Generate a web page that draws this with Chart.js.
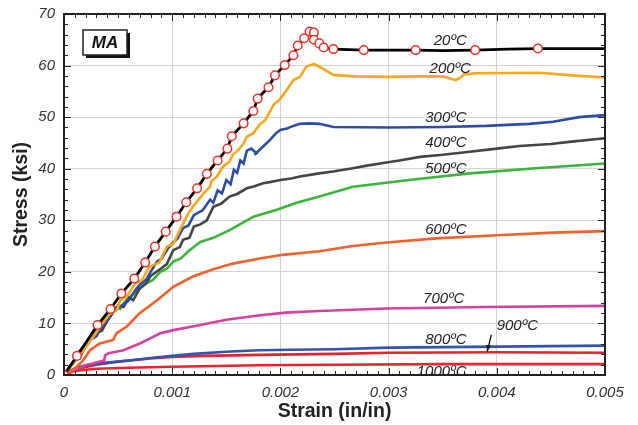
<!DOCTYPE html>
<html>
<head>
<meta charset="utf-8">
<script src="https://cdn.jsdelivr.net/npm/chart.js@4.4.1/dist/chart.umd.min.js"></script>
<style>
  html, body { margin: 0; padding: 0; background: #fff; }
</style>
</head>
<body>
<canvas id="myChart" width="638" height="425"></canvas>
<script>
// DATA (strain in in/in, stress in ksi)

const strain20 = [0, 0.00012, 0.00031, 0.00043, 0.00053, 0.00065, 0.00075, 0.00084, 0.00094, 0.00104, 0.00113, 0.00123, 0.00132, 0.00142, 0.00151, 0.00155, 0.00166, 0.00175, 0.00179, 0.00189, 0.00195, 0.00204, 0.00212, 0.00216, 0.00222, 0.00227, 0.00231, 0.00236, 0.0024, 0.00249, 0.00277, 0.003, 0.00325, 0.0035, 0.0038, 0.0041, 0.00438, 0.0047, 0.005];
const stress20 = [0, 3.7, 9.7, 12.8, 15.8, 18.7, 21.8, 24.9, 27.8, 30.7, 33.5, 36.2, 39.0, 41.6, 43.9, 46.3, 48.8, 51.2, 53.6, 55.8, 58.1, 60.1, 62.0, 63.9, 65.3, 66.6, 65.0, 64.0, 63.5, 63.2, 63.0, 63.0, 63.0, 62.9, 63.0, 63.2, 63.3, 63.3, 63.3];

const circleStrain = [0, 0.00012, 0.00031, 0.00043, 0.00053, 0.00065, 0.00075, 0.00084, 0.00094, 0.00104, 0.00113, 0.00123, 0.00132, 0.00142, 0.00151, 0.00155, 0.00166, 0.00175, 0.00179, 0.00189, 0.00195, 0.00204, 0.00212, 0.00216, 0.00222, 0.00227, 0.00231, 0.00231, 0.00236, 0.0024, 0.00249, 0.00277, 0.00325, 0.0038, 0.00438];
const circleStress = [0, 3.7, 9.7, 12.8, 15.8, 18.7, 21.8, 24.9, 27.8, 30.7, 33.5, 36.2, 39.0, 41.6, 43.9, 46.3, 48.8, 51.2, 53.6, 55.8, 58.1, 60.1, 62.0, 63.9, 65.3, 66.6, 66.4, 65.0, 64.3, 63.5, 63.2, 63.0, 63.0, 63.0, 63.3];

const strain200 = [0, 0.00009, 0.00018, 0.00027, 0.00035, 0.00042, 0.00049, 0.00052, 0.00058, 0.00066, 0.00072, 0.00079, 0.00088, 0.00095, 0.00101, 0.00107, 0.00115, 0.00119, 0.00124, 0.00129, 0.00135, 0.00136, 0.00141, 0.00144, 0.00147, 0.00153, 0.00156, 0.00161, 0.00166, 0.00169, 0.00175, 0.00181, 0.00186, 0.00194, 0.00199, 0.00206, 0.00212, 0.00218, 0.00224, 0.00231, 0.0024, 0.00249, 0.0027, 0.003, 0.0033, 0.0035, 0.00362, 0.00366, 0.0037, 0.0038, 0.0044, 0.0047, 0.005];
const stress200 = [0, 2.5, 4.8, 7.4, 9.8, 11.8, 12.6, 14.5, 15.2, 17.8, 18.4, 21.0, 21.8, 24.9, 25.4, 28.1, 31.4, 32.6, 33.9, 35.2, 36.5, 37.5, 38.4, 39.4, 40.4, 41.4, 42.7, 43.6, 44.9, 46.2, 46.9, 48.6, 49.4, 52.5, 53.3, 55.3, 57.2, 57.8, 59.8, 60.3, 59.3, 58.2, 57.9, 57.8, 57.9, 57.9, 57.2, 57.6, 58.3, 58.5, 58.6, 58.1, 57.7];

const strain300 = [0, 0.00005, 0.0001, 0.00014, 0.0002, 0.00024, 0.0003, 0.00035, 0.0004, 0.00046, 0.0005, 0.00056, 0.0006, 0.00066, 0.0007, 0.00076, 0.0008, 0.00086, 0.0009, 0.00096, 0.001, 0.00105, 0.0011, 0.00115, 0.0012, 0.00124, 0.00128, 0.00135, 0.00138, 0.00142, 0.00146, 0.0015, 0.00154, 0.00157, 0.0016, 0.00163, 0.00166, 0.00169, 0.00173, 0.00178, 0.00176, 0.00184, 0.0019, 0.00196, 0.002, 0.00206, 0.00212, 0.00218, 0.00227, 0.00236, 0.00249, 0.003, 0.0035, 0.0039, 0.0043, 0.00452, 0.00476, 0.005];
const stress300 = [0, 1.6, 3.0, 4.5, 6.0, 6.8, 7.5, 9.5, 10.5, 12.5, 13.0, 13.8, 14.5, 16.5, 17.5, 18.5, 20.0, 22.0, 22.5, 24.5, 25.5, 26.5, 28.5, 29.0, 31.0, 31.5, 31.9, 34.0, 33.4, 35.8, 35.2, 37.8, 37.0, 39.8, 39.2, 41.6, 41.0, 43.5, 43.9, 43.0, 42.7, 44.3, 45.5, 46.9, 47.5, 47.8, 48.3, 48.7, 48.8, 48.7, 48.1, 48.0, 48.1, 48.3, 48.7, 49.1, 50.0, 50.4];

const strain400 = [0, 0.0001, 0.00015, 0.0002, 0.0003, 0.00035, 0.0004, 0.0005, 0.00055, 0.0006, 0.00064, 0.0007, 0.00076, 0.0008, 0.0009, 0.00095, 0.00101, 0.00107, 0.0011, 0.00116, 0.0012, 0.00126, 0.00132, 0.00138, 0.00145, 0.00153, 0.0016, 0.00169, 0.00176, 0.00184, 0.0019, 0.002, 0.0021, 0.00218, 0.00236, 0.0025, 0.00267, 0.0028, 0.00298, 0.0031, 0.00329, 0.0035, 0.00375, 0.004, 0.00421, 0.0045, 0.00467, 0.005];
const stress400 = [0, 2.8, 3.6, 5.5, 8.2, 8.6, 10.5, 13.5, 13.2, 15.0, 14.5, 16.8, 17.8, 19.2, 20.7, 21.5, 24.2, 24.8, 26.2, 26.6, 28.8, 29.2, 30.0, 32.6, 33.2, 34.6, 35.1, 36.2, 36.6, 37.2, 37.4, 37.8, 38.1, 38.5, 39.1, 39.5, 40.1, 40.6, 41.2, 41.6, 42.3, 42.7, 43.3, 43.9, 44.4, 44.8, 45.2, 45.9];

const strain500 = [0, 0.000086, 0.00015, 0.00021, 0.00027, 0.00033, 0.0004, 0.000455, 0.00052, 0.00055, 0.00061, 0.00067, 0.00076, 0.00082, 0.00089, 0.00095, 0.00101, 0.00108, 0.00116, 0.00126, 0.00138, 0.00153, 0.00165, 0.00175, 0.00196, 0.00215, 0.00236, 0.00267, 0.00319, 0.00375, 0.00436, 0.005];
const stress500 = [0, 2.3, 4.0, 6.1, 7.5, 10.0, 11.5, 13.2, 12.8, 13.9, 15.2, 16.2, 17.8, 18.4, 20.0, 20.6, 22.0, 22.6, 24.2, 25.8, 26.6, 28.1, 29.5, 30.7, 32.0, 33.4, 34.6, 36.5, 37.8, 39.1, 40.1, 41.0];

const strain600 = [0, 0.00006, 0.00012, 0.00018, 0.00024, 0.00033, 0.000455, 0.000486, 0.00058, 0.0007, 0.00086, 0.00101, 0.00119, 0.00138, 0.00156, 0.00181, 0.00202, 0.00236, 0.00267, 0.00298, 0.00344, 0.004, 0.00452, 0.005];
const stress600 = [0, 0.8, 1.6, 2.9, 4.8, 6.1, 6.8, 8.1, 9.4, 12.0, 14.5, 17.1, 19.1, 20.5, 21.6, 22.6, 23.3, 24.0, 25.0, 25.7, 26.5, 27.1, 27.6, 27.9];

const strain700 = [0, 0.0001, 0.0002, 0.00027, 0.00037, 0.00038, 0.00041, 0.00055, 0.0007, 0.00089, 0.00101, 0.00126, 0.0015, 0.00181, 0.00205, 0.00236, 0.00298, 0.0039, 0.005];
const stress700 = [0, 1.0, 1.9, 2.3, 2.8, 3.8, 4.2, 4.8, 6.1, 8.1, 8.7, 9.7, 10.7, 11.6, 12.1, 12.4, 12.9, 13.2, 13.4];

const strain800 = [0, 0.0001, 0.0002, 0.0004, 0.0006, 0.0008, 0.001, 0.0012, 0.0015, 0.0018, 0.0021, 0.0025, 0.003, 0.0035, 0.004, 0.0045, 0.005];
const stress800 = [0, 1.3, 1.9, 2.4, 2.8, 3.3, 3.7, 4.1, 4.5, 4.8, 4.9, 5.0, 5.3, 5.4, 5.5, 5.6, 5.7];

const strain900 = [0, 0.00005, 0.00015, 0.0003, 0.0005, 0.0008, 0.001, 0.0013, 0.0018, 0.0025, 0.003, 0.004, 0.005];
const stress900 = [0, 0.8, 1.3, 2.0, 2.6, 3.2, 3.5, 3.7, 3.9, 4.1, 4.3, 4.4, 4.3];

const strain1000 = [0, 0.0001, 0.0003, 0.0006, 0.001, 0.0018, 0.0025, 0.0035, 0.005];
const stress1000 = [0, 0.8, 1.2, 1.4, 1.6, 1.9, 2.0, 2.1, 2.1];

// curve labels: text, strain, stress
const labelText = ["20ºC", "200ºC", "300ºC", "400ºC", "500ºC", "600ºC", "700ºC", "800ºC", "900ºC", "1000ºC"];
const labelStrain = [0.00357, 0.00357, 0.00353, 0.00353, 0.00353, 0.00353, 0.00351, 0.00353, 0.00419, 0.00349];
const labelStress = [64.8, 59.3, 49.8, 45.0, 39.9, 28.1, 14.7, 6.8, 9.6, 0.6];

const xTicks = [0, 0.001, 0.002, 0.003, 0.004, 0.005];
const yTicks = [0, 10, 20, 30, 40, 50, 60, 70];

function pairs(xs, ys) {
  return xs.map((x, i) => ({ x: x, y: ys[i] }));
}

function line(label, xs, ys, color, width) {
  return {
    label: label,
    data: pairs(xs, ys),
    borderColor: color,
    backgroundColor: color,
    borderWidth: width || 2.6,
    pointRadius: 0,
    tension: 0,
    fill: false,
  };
}

const fontFamily = "'Liberation Sans', Arial, Helvetica, sans-serif";

// frame, inward ticks, box and labels
const decor = {
  id: "decor",
  afterDatasetsDraw(chart) {
    const ctx = chart.ctx;
    const xs = chart.scales.x;
    const ys = chart.scales.y;
    ctx.save();
    ctx.fillStyle = "#222";
    ctx.font = "italic 15px " + fontFamily;
    ctx.textAlign = "center";
    ctx.textBaseline = "middle";
    labelText.forEach((t, i) => {
      ctx.fillText(t, xs.getPixelForValue(labelStrain[i]), ys.getPixelForValue(labelStress[i]));
    });

    // arrow for 900
    const ax1 = xs.getPixelForValue(0.00395), ay1 = ys.getPixelForValue(7.8);
    const ax2 = xs.getPixelForValue(0.00391), ay2 = ys.getPixelForValue(4.5);
    ctx.strokeStyle = "#111";
    ctx.lineWidth = 1.3;
    ctx.beginPath();
    ctx.moveTo(ax1, ay1);
    ctx.lineTo(ax2, ay2);
    ctx.stroke();
    const ang = Math.atan2(ay2 - ay1, ax2 - ax1);
    ctx.fillStyle = "#111";
    ctx.beginPath();
    ctx.moveTo(ax2, ay2);
    ctx.lineTo(ax2 - 7 * Math.cos(ang - 0.35), ay2 - 7 * Math.sin(ang - 0.35));
    ctx.lineTo(ax2 - 7 * Math.cos(ang + 0.35), ay2 - 7 * Math.sin(ang + 0.35));
    ctx.closePath();
    ctx.fill();
    ctx.restore();
  },
  afterDraw(chart) {
    const ctx = chart.ctx;
    const a = chart.chartArea;
    const xs = chart.scales.x;
    const ys = chart.scales.y;
    ctx.save();
    ctx.strokeStyle = "#222";
    ctx.lineWidth = 1;
    ctx.beginPath();
    for (let i = 0; i <= 50; i++) {
      const px = Math.round(xs.getPixelForValue(i * 0.0001)) + 0.5;
      const len = i % 10 === 0 ? 7 : 4;
      ctx.moveTo(px, a.bottom); ctx.lineTo(px, a.bottom - len);
      ctx.moveTo(px, a.top); ctx.lineTo(px, a.top + len);
    }
    for (let i = 0; i <= 35; i++) {
      const py = Math.round(ys.getPixelForValue(i * 2)) + 0.5;
      const len = i % 5 === 0 ? 7 : 4;
      ctx.moveTo(a.left, py); ctx.lineTo(a.left + len, py);
      ctx.moveTo(a.right, py); ctx.lineTo(a.right - len, py);
    }
    ctx.stroke();

    ctx.lineWidth = 2;
    ctx.strokeRect(a.left, a.top, a.right - a.left, a.bottom - a.top);

    // MA box
    const bx = a.left + 19, by = a.top + 16, bw = 44, bh = 25;
    ctx.fillStyle = "#111";
    ctx.fillRect(bx + 3, by + 3, bw, bh);
    ctx.fillStyle = "#fff";
    ctx.fillRect(bx, by, bw, bh);
    ctx.lineWidth = 1.5;
    ctx.strokeRect(bx, by, bw, bh);
    ctx.fillStyle = "#111";
    ctx.font = "italic bold 17px " + fontFamily;
    ctx.textAlign = "center";
    ctx.textBaseline = "middle";
    ctx.fillText("MA", bx + bw / 2, by + bh / 2 + 1);
    ctx.restore();
  },
};

const ctx = document.getElementById("myChart").getContext("2d");

const chart = new Chart(ctx, {
  type: "line",
  data: {
    datasets: [
      {
        label: "20ºC test points",
        data: pairs(circleStrain, circleStress),
        showLine: false,
        pointRadius: 4.3,
        pointBorderWidth: 1.5,
        pointBorderColor: "#e8322b",
        pointBackgroundColor: "#ffffff",
      },
      line("20ºC", strain20, stress20, "#000000", 2.8),
      line("200ºC", strain200, stress200, "#f7a81f"),
      line("300ºC", strain300, stress300, "#2c4da6"),
      line("400ºC", strain400, stress400, "#454545"),
      line("500ºC", strain500, stress500, "#3bb43b"),
      line("600ºC", strain600, stress600, "#f2602b"),
      line("700ºC", strain700, stress700, "#d4429f"),
      line("800ºC", strain800, stress800, "#2f55b0"),
      line("900ºC", strain900, stress900, "#e1252a"),
      line("1000ºC", strain1000, stress1000, "#e8262b"),
    ],
  },
  options: {
    responsive: false,
    animation: false,
    devicePixelRatio: 1,
    layout: { padding: { top: 14, right: 33, left: 0, bottom: 0 } },
    plugins: {
      legend: { display: false },
      tooltip: { enabled: false },
    },
    scales: {
      x: {
        type: "linear",
        min: 0,
        max: 0.005,
        afterFit: (scale) => { scale.height = 50; },
        afterBuildTicks: (scale) => { scale.ticks = xTicks.map((v) => ({ value: v })); },
        ticks: {
          padding: 9,
          color: "#333",
          font: { family: fontFamily, size: 15, style: "italic" },
          callback: (v) => (v === 0 ? "0" : Number(v).toFixed(3)),
          maxRotation: 0,
        },
        grid: { color: "#d2d2d2", lineWidth: 1, drawTicks: false },
        border: { display: false },
        title: {
          display: true,
          text: "Strain (in/in)",
          color: "#222",
          font: { family: fontFamily, size: 19.5, weight: "bold" },
          padding: { top: 0, bottom: 2 },
        },
      },
      y: {
        min: 0,
        max: 70,
        afterFit: (scale) => {
          scale.width = 64;
          scale.paddingTop = 0;
          scale.paddingBottom = 0;
        },
        afterBuildTicks: (scale) => { scale.ticks = yTicks.map((v) => ({ value: v })); },
        ticks: {
          padding: 9,
          color: "#333",
          font: { family: fontFamily, size: 15, style: "italic" },
        },
        grid: { color: "#d2d2d2", lineWidth: 1, drawTicks: false },
        border: { display: false },
        title: {
          display: true,
          text: "Stress (ksi)",
          color: "#222",
          font: { family: fontFamily, size: 19.5, weight: "bold" },
          padding: { top: 10, bottom: 0 },
        },
      },
    },
  },
  plugins: [decor],
});
</script>
</body>
</html>
